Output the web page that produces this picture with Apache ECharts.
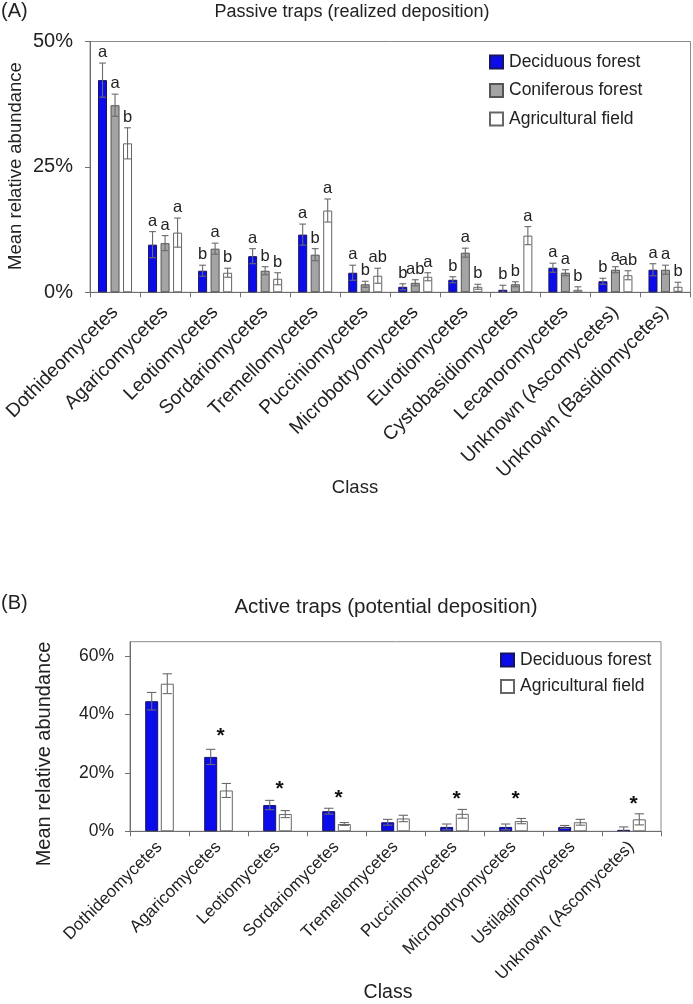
<!DOCTYPE html>
<html>
<head>
<meta charset="utf-8">
<script src="https://cdn.jsdelivr.net/npm/echarts@6/dist/echarts.min.js"></script>
<style>html,body{margin:0;padding:0;background:#fff}#c{width:693px;height:1004px}</style>
</head>
<body>
<div id="c"></div>
<script>
// ---------- Data: panel A (passive traps) ----------
const catsA = ['Dothideomycetes','Agaricomycetes','Leotiomycetes','Sordariomycetes','Tremellomycetes','Pucciniomycetes','Microbotryomycetes','Eurotiomycetes','Cystobasidiomycetes','Lecanoromycetes','Unknown (Ascomycetes)','Unknown (Basidiomycetes)'];
const decA    = [42.3, 9.5, 4.3, 7.2, 11.5, 3.9, 1.1, 2.5, 0.5, 4.9, 2.2, 4.5];
const decAErr = [3.4, 2.6, 1.1, 1.5, 2.1, 1.5, 0.6, 0.6, 0.9, 0.9, 0.6, 1.2];
const conA    = [37.3, 9.8, 8.7, 4.3, 7.5, 1.6, 1.9, 7.9, 1.6, 3.9, 4.5, 4.5];
const conAErr = [2.2, 1.5, 1.1, 0.8, 1.2, 0.6, 0.6, 0.9, 0.5, 0.6, 0.6, 0.9];
const agrA    = [29.7, 11.9, 3.9, 2.7, 16.3, 3.3, 3.1, 1.1, 11.3, 0.5, 3.4, 1.1];
const agrAErr = [3.1, 2.9, 0.9, 1.2, 2.3, 1.5, 0.8, 0.5, 1.8, 0.6, 0.9, 0.9];
const decALetters = ['a','a','b','a','a','a','b','b','b','a','b','a'];
const conALetters = ['a','a','a','b','b','b','ab','a','b','a','a','a'];
const agrALetters = ['b','a','b','b','a','ab','a','b','a','b','ab','b'];
const ticksA = [0, 25, 50];

// ---------- Data: panel B (active traps) ----------
const catsB = ['Dothideomycetes','Agaricomycetes','Leotiomycetes','Sordariomycetes','Tremellomycetes','Pucciniomycetes','Microbotryomycetes','Ustilaginomycetes','Unknown (Ascomycetes)'];
const decB    = [44.6, 25.5, 9.0, 6.9, 3.1, 1.5, 1.5, 1.5, 0.5];
const decBErr = [3.0, 2.6, 1.6, 1.0, 1.0, 1.0, 1.0, 0.5, 1.0];
const agrB    = [50.6, 14.0, 5.9, 2.5, 4.4, 6.0, 3.5, 3.1, 4.1];
const agrBErr = [3.4, 2.4, 1.2, 0.5, 1.1, 1.5, 0.9, 1.0, 1.9];
const starB   = [null, 34.3, 16.1, 13.0, null, 12.7, 12.7, null, 11.1];
const ticksB = [0, 20, 40, 60];

// ---------- Styles ----------
const FONT = '"Liberation Sans", Arial, sans-serif';
const TXT = '#222';
const AX = '#6e6e6e';
const BLUE = '#0c0ceb', GRAY = '#a4a4a4', WHITE = '#ffffff';
const BW_A = 9, GAP_A = 39;   // px, % of bar width
const BW_B = 13, GAP_B = 20;

function barSeries(name, data, color, border, ax, bw, gap) {
  return {
    type: 'bar', name, data, xAxisIndex: ax, yAxisIndex: ax,
    barWidth: bw, barGap: gap + '%',
    itemStyle: { color, borderColor: border, borderWidth: 1 },
    z: 2
  };
}

function errSeries(means, errs, letters, ax, idx, n, bw, gapPct, fontSize) {
  const gapPx = bw * gapPct / 100;
  return {
    type: 'custom', xAxisIndex: ax, yAxisIndex: ax, z: 5, silent: true,
    data: means.map((m, i) => [i, m, errs[i]]),
    renderItem(params, api) {
      const i = api.value(0), m = api.value(1), e = api.value(2);
      const c = api.coord([i, m]);
      const total = n * bw + (n - 1) * gapPx;
      const cx = c[0] - total / 2 + idx * (bw + gapPx) + bw / 2;
      const yT = api.coord([i, m + e])[1];
      const yB = api.coord([i, Math.max(m - e, 0)])[1];
      const cap = bw * 0.32 + 0.5;
      const st = { stroke: '#6a6a6a', lineWidth: 1.1 };
      const children = [
        { type: 'line', shape: { x1: cx, y1: yT, x2: cx, y2: yB }, style: st },
        { type: 'line', shape: { x1: cx - cap, y1: yT, x2: cx + cap, y2: yT }, style: st },
        { type: 'line', shape: { x1: cx - cap, y1: yB, x2: cx + cap, y2: yB }, style: st }
      ];
      if (letters) {
        children.push({ type: 'text', style: { x: cx, y: yT - 2, text: letters[params.dataIndex],
          fill: TXT, font: fontSize + 'px ' + FONT, align: 'center', verticalAlign: 'bottom' } });
      }
      return { type: 'group', children };
    }
  };
}

function starSeries(stars, ax) {
  return {
    type: 'custom', xAxisIndex: ax, yAxisIndex: ax, z: 6, silent: true,
    data: stars.map((s, i) => [i, s == null ? NaN : s]),
    renderItem(params, api) {
      const v = api.value(1);
      if (isNaN(v)) return null;
      const c = api.coord([api.value(0), v]);
      return { type: 'text', style: { x: c[0] + 2, y: c[1] + 5, text: '*', fill: '#111',
        font: 'bold 21px ' + FONT, align: 'center', verticalAlign: 'middle' } };
    }
  };
}

function xAxisCfg(cats, grid, fontSize, margin) {
  return {
    type: 'category', gridIndex: grid, data: cats, boundaryGap: true,
    axisLine: { lineStyle: { color: AX, width: 1 } },
    axisTick: { show: true, length: 5, lineStyle: { color: AX } },
    axisLabel: { rotate: 45, interval: 0, margin, color: TXT, fontSize, fontFamily: FONT }
  };
}

function yAxisCfg(grid, max, interval, ticks, fontSize, margin) {
  return {
    type: 'value', gridIndex: grid, min: 0, max, interval,
    axisLine: { show: true, lineStyle: { color: AX, width: 1 } },
    axisTick: { show: true, length: 5, lineStyle: { color: AX }, customValues: ticks },
    axisLabel: { color: TXT, fontSize, fontFamily: FONT, margin, customValues: ticks,
      formatter: v => (ticks.indexOf(v) >= 0 ? v + '%' : '') },
    splitLine: { show: false }
  };
}

const chart = echarts.init(document.getElementById('c'), null, { renderer: 'canvas' });

const txt = (text, x, y, size, opts = {}) => Object.assign({
  type: 'text', x, y,
  style: { text, fill: TXT, font: size + 'px ' + FONT, align: opts.align || 'center', verticalAlign: 'middle' }
}, opts.rot ? { rotation: opts.rot } : {});

chart.setOption({
  animation: false,
  grid: [
    { left: 90, right: 2.5, top: 41.5, bottom: 1004 - 292.3, show: true, borderColor: '#8a8a8a', borderWidth: 1, containLabel: false },
    { left: 130, right: 32, top: 641.7, bottom: 1004 - 831.3, show: true, borderColor: '#8a8a8a', borderWidth: 1, containLabel: false }
  ],
  xAxis: [ xAxisCfg(catsA, 0, 19.3, 17), xAxisCfg(catsB, 1, 17, 13) ],
  yAxis: [ yAxisCfg(0, 50, 25, ticksA, 20, 17), yAxisCfg(1, 65, 20, ticksB, 17.5, 16) ],
  legend: [
    { data: ['Deciduous forest', 'Coniferous forest', 'Agricultural field'], orient: 'vertical',
      left: 489, top: 53, itemWidth: 13, itemHeight: 13, itemGap: 10.5, padding: 0, icon: 'rect',
      textStyle: { color: TXT, fontSize: 17.5, fontFamily: FONT, padding: [0, 0, 0, 1] }, selectedMode: false },
    { data: ['Deciduous forest', 'Agricultural field'], orient: 'vertical',
      left: 500, top: 651, itemWidth: 13, itemHeight: 13, itemGap: 8.5, padding: 0, icon: 'rect',
      textStyle: { color: TXT, fontSize: 17.5, fontFamily: FONT, padding: [0, 0, 0, 1] }, selectedMode: false }
  ],
  series: [
    barSeries('Deciduous forest', decA, BLUE, '#151560', 0, BW_A, GAP_A),
    barSeries('Coniferous forest', conA, GRAY, '#555', 0, BW_A, GAP_A),
    barSeries('Agricultural field', agrA, WHITE, '#666', 0, BW_A, GAP_A),
    errSeries(decA, decAErr, decALetters, 0, 0, 3, BW_A, GAP_A, 16.5),
    errSeries(conA, conAErr, conALetters, 0, 1, 3, BW_A, GAP_A, 16.5),
    errSeries(agrA, agrAErr, agrALetters, 0, 2, 3, BW_A, GAP_A, 16.5),
    barSeries('Deciduous forest', decB, BLUE, '#151560', 1, BW_B, GAP_B),
    barSeries('Agricultural field', agrB, WHITE, '#666', 1, BW_B, GAP_B),
    errSeries(decB, decBErr, null, 1, 0, 2, BW_B, GAP_B, 16),
    errSeries(agrB, agrBErr, null, 1, 1, 2, BW_B, GAP_B, 16),
    starSeries(starB, 1)
  ],
  graphic: [
    txt('(A)', 1, 11, 20, { align: 'left' }),
    txt('Passive traps (realized deposition)', 352, 12, 18),
    txt('Mean relative abundance', 16, 166, 18.5, { rot: Math.PI / 2 }),
    txt('Class', 355, 488, 18.5),
    txt('(B)', 1, 603, 20, { align: 'left' }),
    txt('Active traps (potential deposition)', 386, 607, 20.5),
    txt('Mean relative abundance', 44, 754, 20, { rot: Math.PI / 2 }),
    txt('Class', 388, 993, 19.5)
  ]
});
</script>
</body>
</html>
